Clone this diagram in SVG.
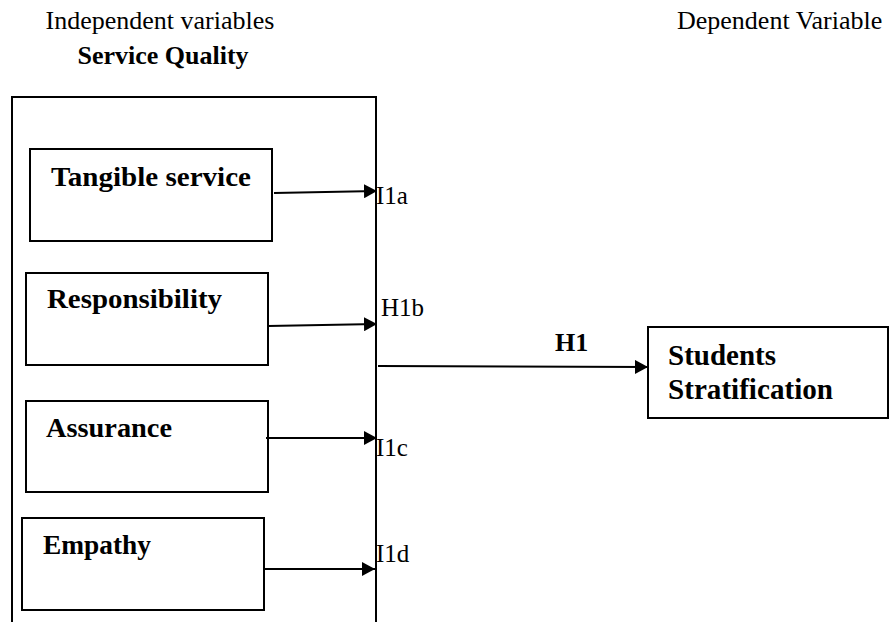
<svg xmlns="http://www.w3.org/2000/svg" width="891" height="622" viewBox="0 0 891 622">
<style>
.hdr{font-family:"Liberation Serif","Times New Roman",serif;font-size:26px;fill:#000}
.hb{font-family:"Liberation Serif","Times New Roman",serif;font-size:26px;font-weight:bold;fill:#000}
.box{fill:#fff;stroke:#000;stroke-width:2}
.lbl{font-family:"Liberation Serif","Times New Roman",serif;font-size:28px;font-weight:bold;fill:#000}
.dv{font-family:"Liberation Serif","Times New Roman",serif;font-size:29px;font-weight:bold;fill:#000}
.hyp{font-family:"Liberation Serif","Times New Roman",serif;font-size:25px;fill:#000}
.con{stroke:#000;stroke-width:2;fill:none;marker-end:url(#ah)}
</style>
<defs>
<marker id="ah" markerUnits="userSpaceOnUse" markerWidth="14" markerHeight="14" refX="13" refY="7" orient="auto">
<path d="M0,0 L13,7 L0,14 Z" fill="#000"/>
</marker>
</defs>
<rect width="891" height="622" fill="#fff"/>
<text class="hdr" x="160" y="29" text-anchor="middle">Independent variables</text>
<text class="hb" x="163" y="64" text-anchor="middle">Service Quality</text>
<text class="hdr" x="677" y="29">Dependent Variable</text>
<g id="service-quality">
<path d="M12,622 L12,97 L376,97 L376,622" fill="none" stroke="#000" stroke-width="2"/>
</g>
<g id="tangible">
<rect class="box" x="30" y="149" width="242" height="92"/>
<text class="lbl" x="51" y="186" textLength="200" lengthAdjust="spacingAndGlyphs">Tangible service</text>
</g>
<g id="responsibility">
<rect class="box" x="26" y="273" width="242" height="92"/>
<text class="lbl" x="47" y="308" textLength="175" lengthAdjust="spacingAndGlyphs">Responsibility</text>
</g>
<g id="assurance">
<rect class="box" x="26" y="401" width="242" height="91"/>
<text class="lbl" x="46" y="437" textLength="126" lengthAdjust="spacingAndGlyphs">Assurance</text>
</g>
<g id="empathy">
<rect class="box" x="22" y="518" width="242" height="92"/>
<text class="lbl" x="43" y="554" textLength="108" lengthAdjust="spacingAndGlyphs">Empathy</text>
</g>
<g id="students-stratification">
<rect class="box" x="648" y="327" width="240" height="91"/>
<text class="dv" x="668" y="365">Students</text>
<text class="dv" x="668" y="399" textLength="165" lengthAdjust="spacingAndGlyphs">Stratification</text>
</g>
<g id="connectors">
<line class="con" x1="274" y1="193" x2="377" y2="191"/>
<line class="con" x1="268" y1="326" x2="377" y2="324"/>
<line class="con" x1="266" y1="438" x2="377" y2="438"/>
<line class="con" x1="264" y1="569" x2="375" y2="569"/>
<line class="con" x1="378" y1="366" x2="648" y2="367"/>
<text class="hyp" x="376" y="204">I1a</text>
<text class="hyp" x="381" y="316">H1b</text>
<text class="hyp" x="376" y="456">I1c</text>
<text class="hyp" x="376" y="562">I1d</text>
<text class="hb" x="555" y="351">H1</text>
</g>
</svg>
